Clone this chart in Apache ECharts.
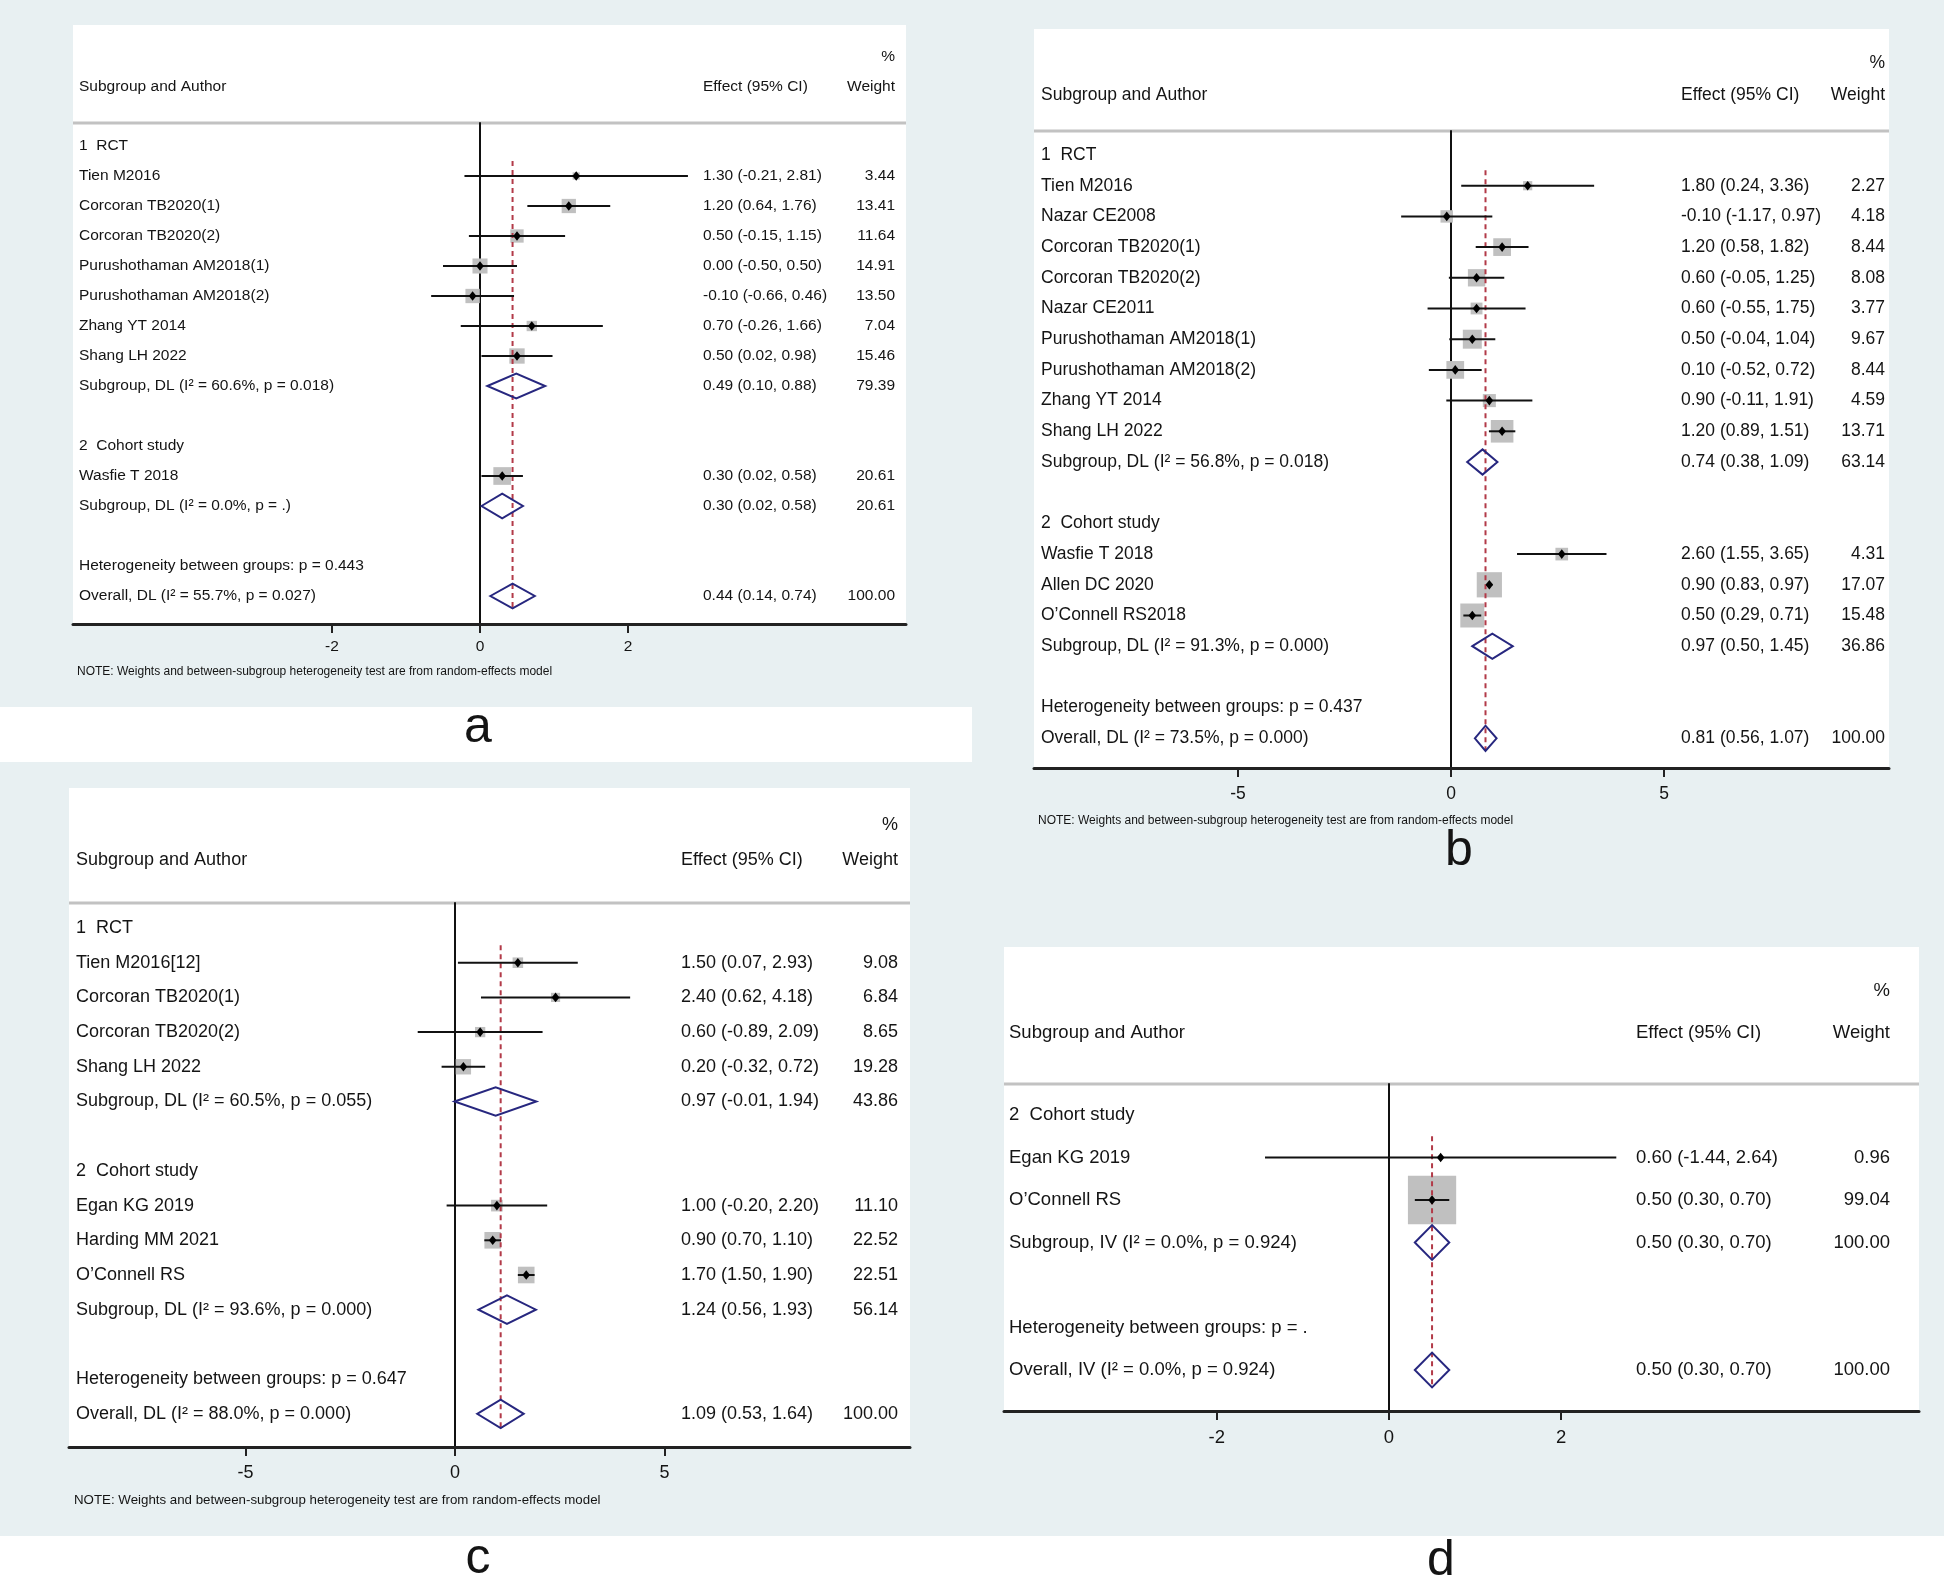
<!DOCTYPE html>
<html><head><meta charset="utf-8">
<script src="https://cdn.jsdelivr.net/npm/echarts@6/dist/echarts.min.js"></script>
<style>html,body{margin:0;padding:0;background:#fff}#main{width:1944px;height:1579px}</style>
</head><body><div id="main"></div>
<script>
// ---------------- Panel a ----------------
const aGroupNames = ["1  RCT", "2  Cohort study"];
const aStudyNames = ["Tien M2016", "Corcoran TB2020(1)", "Corcoran TB2020(2)", "Purushothaman AM2018(1)", "Purushothaman AM2018(2)", "Zhang YT 2014", "Shang LH 2022", "Wasfie T 2018"];
const aStudyGroup = [0, 0, 0, 0, 0, 0, 0, 1];
const aEffect = [1.30, 1.20, 0.50, 0.00, -0.10, 0.70, 0.50, 0.30];
const aLower  = [-0.21, 0.64, -0.15, -0.50, -0.66, -0.26, 0.02, 0.02];
const aUpper  = [2.81, 1.76, 1.15, 0.50, 0.46, 1.66, 0.98, 0.58];
const aWeight = [3.44, 13.41, 11.64, 14.91, 13.50, 7.04, 15.46, 20.61];
const aSubLabels = ["Subgroup, DL (I² = 60.6%, p = 0.018)", "Subgroup, DL (I² = 0.0%, p = .)"];
const aSubEffect = [0.49, 0.30];
const aSubLower  = [0.10, 0.02];
const aSubUpper  = [0.88, 0.58];
const aSubWeight = [79.39, 20.61];
const aHetText = "Heterogeneity between groups: p = 0.443";
const aOverallLabel = "Overall, DL (I² = 55.7%, p = 0.027)";
const aOverallEst = [0.44, 0.14, 0.74];
const aOverallWeight = 100.00;
const aTicks = [-2, 0, 2];

// ---------------- Panel b ----------------
const bGroupNames = ["1  RCT", "2  Cohort study"];
const bStudyNames = ["Tien M2016", "Nazar CE2008", "Corcoran TB2020(1)", "Corcoran TB2020(2)", "Nazar CE2011", "Purushothaman AM2018(1)", "Purushothaman AM2018(2)", "Zhang YT 2014", "Shang LH 2022", "Wasfie T 2018", "Allen DC 2020", "O\u2019Connell RS2018"];
const bStudyGroup = [0, 0, 0, 0, 0, 0, 0, 0, 0, 1, 1, 1];
const bEffect = [1.80, -0.10, 1.20, 0.60, 0.60, 0.50, 0.10, 0.90, 1.20, 2.60, 0.90, 0.50];
const bLower  = [0.24, -1.17, 0.58, -0.05, -0.55, -0.04, -0.52, -0.11, 0.89, 1.55, 0.83, 0.29];
const bUpper  = [3.36, 0.97, 1.82, 1.25, 1.75, 1.04, 0.72, 1.91, 1.51, 3.65, 0.97, 0.71];
const bWeight = [2.27, 4.18, 8.44, 8.08, 3.77, 9.67, 8.44, 4.59, 13.71, 4.31, 17.07, 15.48];
const bSubLabels = ["Subgroup, DL (I² = 56.8%, p = 0.018)", "Subgroup, DL (I² = 91.3%, p = 0.000)"];
const bSubEffect = [0.74, 0.97];
const bSubLower  = [0.38, 0.50];
const bSubUpper  = [1.09, 1.45];
const bSubWeight = [63.14, 36.86];
const bHetText = "Heterogeneity between groups: p = 0.437";
const bOverallLabel = "Overall, DL (I² = 73.5%, p = 0.000)";
const bOverallEst = [0.81, 0.56, 1.07];
const bOverallWeight = 100.00;
const bTicks = [-5, 0, 5];

// ---------------- Panel c ----------------
const cGroupNames = ["1  RCT", "2  Cohort study"];
const cStudyNames = ["Tien M2016[12]", "Corcoran TB2020(1)", "Corcoran TB2020(2)", "Shang LH 2022", "Egan KG 2019", "Harding MM 2021", "O\u2019Connell RS"];
const cStudyGroup = [0, 0, 0, 0, 1, 1, 1];
const cEffect = [1.50, 2.40, 0.60, 0.20, 1.00, 0.90, 1.70];
const cLower  = [0.07, 0.62, -0.89, -0.32, -0.20, 0.70, 1.50];
const cUpper  = [2.93, 4.18, 2.09, 0.72, 2.20, 1.10, 1.90];
const cWeight = [9.08, 6.84, 8.65, 19.28, 11.10, 22.52, 22.51];
const cSubLabels = ["Subgroup, DL (I² = 60.5%, p = 0.055)", "Subgroup, DL (I² = 93.6%, p = 0.000)"];
const cSubEffect = [0.97, 1.24];
const cSubLower  = [-0.01, 0.56];
const cSubUpper  = [1.94, 1.93];
const cSubWeight = [43.86, 56.14];
const cHetText = "Heterogeneity between groups: p = 0.647";
const cOverallLabel = "Overall, DL (I² = 88.0%, p = 0.000)";
const cOverallEst = [1.09, 0.53, 1.64];
const cOverallWeight = 100.00;
const cTicks = [-5, 0, 5];

// ---------------- Panel d ----------------
const dGroupNames = ["2  Cohort study"];
const dStudyNames = ["Egan KG 2019", "O\u2019Connell RS"];
const dStudyGroup = [0, 0];
const dEffect = [0.60, 0.50];
const dLower  = [-1.44, 0.30];
const dUpper  = [2.64, 0.70];
const dWeight = [0.96, 99.04];
const dSubLabels = ["Subgroup, IV (I² = 0.0%, p = 0.924)"];
const dSubEffect = [0.50];
const dSubLower  = [0.30];
const dSubUpper  = [0.70];
const dSubWeight = [100.00];
const dHetText = "Heterogeneity between groups: p = .";
const dOverallLabel = "Overall, IV (I² = 0.0%, p = 0.924)";
const dOverallEst = [0.50, 0.30, 0.70];
const dOverallWeight = 100.00;
const dTicks = [-2, 0, 2];

const NOTE_TEXT = "NOTE: Weights and between-subgroup heterogeneity test are from random-effects model";

// ---------------- layout / style ----------------
const FONT = '"Liberation Sans", Arial, sans-serif';
const TXT = '#141414';
const BG = '#e8f0f2';
const PANELS = [
  { d: {groupNames:aGroupNames, studyNames:aStudyNames, studyGroup:aStudyGroup, effect:aEffect, lower:aLower, upper:aUpper, weight:aWeight,
        subLabels:aSubLabels, subEffect:aSubEffect, subLower:aSubLower, subUpper:aSubUpper, subWeight:aSubWeight,
        hetText:aHetText, overallLabel:aOverallLabel, overallEst:aOverallEst, overallWeight:aOverallWeight, ticks:aTicks},
    L: {x0:73, top:25, x1:906, axisY:624, sepY:123, rowY0:146, step:30, zeroX:480, unit:74, font:15.5,
        labelX:79, ciX:703, wtX:895, pctY:57, headY:87, noteX:77, noteY:672, noteFont:12, tickMargin:15,
        boxScale:3.9, letter:'a', letterX:478, letterY:728} },
  { d: {groupNames:bGroupNames, studyNames:bStudyNames, studyGroup:bStudyGroup, effect:bEffect, lower:bLower, upper:bUpper, weight:bWeight,
        subLabels:bSubLabels, subEffect:bSubEffect, subLower:bSubLower, subUpper:bSubUpper, subWeight:bSubWeight,
        hetText:bHetText, overallLabel:bOverallLabel, overallEst:bOverallEst, overallWeight:bOverallWeight, ticks:bTicks},
    L: {x0:1034, top:29, x1:1889, axisY:768, sepY:131, rowY0:155, step:30.7, zeroX:1451, unit:42.6, font:17.5,
        labelX:1041, ciX:1681, wtX:1885, pctY:63, headY:95, noteX:1038, noteY:821, noteFont:12, tickMargin:17,
        boxScale:6.1, letter:'b', letterX:1459, letterY:851} },
  { d: {groupNames:cGroupNames, studyNames:cStudyNames, studyGroup:cStudyGroup, effect:cEffect, lower:cLower, upper:cUpper, weight:cWeight,
        subLabels:cSubLabels, subEffect:cSubEffect, subLower:cSubLower, subUpper:cSubUpper, subWeight:cSubWeight,
        hetText:cHetText, overallLabel:cOverallLabel, overallEst:cOverallEst, overallWeight:cOverallWeight, ticks:cTicks},
    L: {x0:69, top:788, x1:910, axisY:1447, sepY:903, rowY0:928, step:34.7, zeroX:455, unit:41.9, font:18,
        labelX:76, ciX:681, wtX:898, pctY:825, headY:860, noteX:74, noteY:1500, noteFont:13.3, tickMargin:17,
        boxScale:3.5, letter:'c', letterX:478, letterY:1559} },
  { d: {groupNames:dGroupNames, studyNames:dStudyNames, studyGroup:dStudyGroup, effect:dEffect, lower:dLower, upper:dUpper, weight:dWeight,
        subLabels:dSubLabels, subEffect:dSubEffect, subLower:dSubLower, subUpper:dSubUpper, subWeight:dSubWeight,
        hetText:dHetText, overallLabel:dOverallLabel, overallEst:dOverallEst, overallWeight:dOverallWeight, ticks:dTicks},
    L: {x0:1004, top:947, x1:1919, axisY:1411, sepY:1084, rowY0:1115, step:42.5, zeroX:1389, unit:86.1, font:18.5,
        labelX:1009, ciX:1636, wtX:1890, pctY:991, headY:1033, noteX:null, tickMargin:17,
        boxScale:4.85, letter:'d', letterX:1441, letterY:1561} }
];

function buildRows(P) {
  const rows = [];
  let r = 0;
  P.groupNames.forEach((gname, g) => {
    rows.push({kind:'group', row:r++, label:gname});
    P.studyNames.forEach((nm, i) => {
      if (P.studyGroup[i] !== g) return;
      rows.push({kind:'study', row:r++, label:nm, est:P.effect[i], lo:P.lower[i], hi:P.upper[i], w:P.weight[i]});
    });
    rows.push({kind:'sub', row:r++, label:P.subLabels[g], est:P.subEffect[g], lo:P.subLower[g], hi:P.subUpper[g], w:P.subWeight[g]});
    r++;
  });
  rows.push({kind:'het', row:r++, label:P.hetText});
  rows.push({kind:'overall', row:r++, label:P.overallLabel, est:P.overallEst[0], lo:P.overallEst[1], hi:P.overallEst[2], w:P.overallWeight});
  return rows;
}
const f2 = v => v.toFixed(2);

function txt(text, x, y, size, align, extra) {
  return Object.assign({type:'text', style:{text, x, y, fill:TXT, fontSize:size, fontFamily:FONT,
    align, textAlign:align, verticalAlign:'middle', textVerticalAlign:'middle'}}, extra || {});
}

const grids = [], xAxes = [], yAxes = [], series = [];
const graphics = [
  {type:'rect', shape:{x:0, y:0, width:1944, height:1536}, style:{fill:BG}, z:-100},
  {type:'rect', shape:{x:0, y:707, width:972, height:55}, style:{fill:'#ffffff'}, z:-99}
];
const DIA_H = 0.41;

PANELS.forEach((p, i) => {
  const L = p.L, P = p.d;
  const rows = buildRows(P);
  const overallRow = rows[rows.length - 1].row;
  grids.push({left:L.x0, top:L.sepY, width:L.x1 - L.x0, height:L.axisY - L.sepY, containLabel:false});
  xAxes.push({type:'value', gridIndex:i, position:'bottom',
    min:(L.x0 - L.zeroX) / L.unit, max:(L.x1 - L.zeroX) / L.unit,
    axisLine:{show:true, onZero:false, lineStyle:{color:'#222', width:3}},
    axisTick:{show:true, inside:false, length:9, customValues:P.ticks, lineStyle:{color:'#222', width:2}},
    axisLabel:{show:true, customValues:P.ticks, fontSize:L.font, fontFamily:FONT, color:TXT, margin:L.tickMargin},
    splitLine:{show:false}});
  yAxes.push({type:'value', gridIndex:i, inverse:true,
    min:(L.sepY - L.rowY0) / L.step, max:(L.axisY - L.rowY0) / L.step,
    axisLine:{show:true, onZero:true, lineStyle:{color:'#111', width:2}},
    axisTick:{show:false}, axisLabel:{show:false}, splitLine:{show:false}});

  const data = rows.map(r => [r.est == null ? 0 : r.est, r.row]);

  // weight boxes
  series.push({type:'custom', xAxisIndex:i, yAxisIndex:i, clip:false, z:2, data,
    renderItem(params, api) {
      const r = rows[params.dataIndex];
      if (r.kind !== 'study') return null;
      const c = api.coord([r.est, r.row]);
      const s = L.boxScale * Math.sqrt(r.w);
      return {type:'rect', shape:{x:c[0] - s / 2, y:c[1] - s / 2, width:s, height:s}, style:{fill:'#c0c0c0'}};
    }});
  // reference dashed line at overall estimate
  series.push({type:'custom', xAxisIndex:i, yAxisIndex:i, clip:false, z:3, data:[[P.overallEst[0], overallRow]],
    renderItem(params, api) {
      const a = api.coord([P.overallEst[0], 0.5]);
      const b = api.coord([P.overallEst[0], overallRow + DIA_H]);
      return {type:'line', shape:{x1:a[0], y1:a[1], x2:b[0], y2:b[1]},
        style:{stroke:'#b23a48', lineWidth:2, lineDash:[5, 4]}};
    }});
  // lines, markers, diamonds, texts
  series.push({type:'custom', xAxisIndex:i, yAxisIndex:i, clip:false, z:4, data,
    renderItem(params, api) {
      const r = rows[params.dataIndex];
      const y = api.coord([0, r.row])[1];
      const kids = [txt(r.label, L.labelX, y, L.font, 'left')];
      if (r.kind === 'study' || r.kind === 'sub' || r.kind === 'overall') {
        const lo = api.coord([r.lo, r.row]), hi = api.coord([r.hi, r.row]), c = api.coord([r.est, r.row]);
        if (r.kind === 'study') {
          kids.push({type:'line', shape:{x1:lo[0], y1:y, x2:hi[0], y2:y}, style:{stroke:'#111', lineWidth:2}});
          kids.push({type:'polygon', shape:{points:[[c[0] - 3.8, y], [c[0], y - 4.8], [c[0] + 3.8, y], [c[0], y + 4.8]]}, style:{fill:'#000'}});
        } else {
          const h = api.size([0, DIA_H])[1];
          kids.push({type:'polygon', shape:{points:[[lo[0], y], [c[0], y - h], [hi[0], y], [c[0], y + h]]},
            style:{fill:'none', stroke:'#27277f', lineWidth:2}});
        }
        kids.push(txt(f2(r.est) + ' (' + f2(r.lo) + ', ' + f2(r.hi) + ')', L.ciX, y, L.font, 'left'));
        kids.push(txt(f2(r.w), L.wtX, y, L.font, 'right'));
      }
      return {type:'group', children:kids};
    }});

  // panel frame and header (decoration)
  graphics.push({type:'rect', shape:{x:L.x0, y:L.top, width:L.x1 - L.x0, height:L.axisY - L.top}, style:{fill:'#ffffff'}, z:-90});
  graphics.push({type:'line', shape:{x1:L.x0, y1:L.sepY, x2:L.x1, y2:L.sepY}, style:{stroke:'#c2c2c2', lineWidth:3}, z:-80});
  graphics.push(txt('%', L.wtX, L.pctY, L.font, 'right', {z:10}));
  graphics.push(txt('Subgroup and Author', L.labelX, L.headY, L.font, 'left', {z:10}));
  graphics.push(txt('Effect (95% CI)', L.ciX, L.headY, L.font, 'left', {z:10}));
  graphics.push(txt('Weight', L.wtX, L.headY, L.font, 'right', {z:10}));
  if (L.noteX != null) graphics.push(txt(NOTE_TEXT, L.noteX, L.noteY, L.noteFont, 'left', {z:10}));
  graphics.push(txt(L.letter, L.letterX, L.letterY, 50, 'center', {z:10}));
});

const chart = echarts.init(document.getElementById('main'), null, {renderer:'canvas'});
chart.setOption({
  animation:false,
  backgroundColor:'#ffffff',
  grid:grids, xAxis:xAxes, yAxis:yAxes, series,
  graphic:{elements:graphics}
});
</script></body></html>
